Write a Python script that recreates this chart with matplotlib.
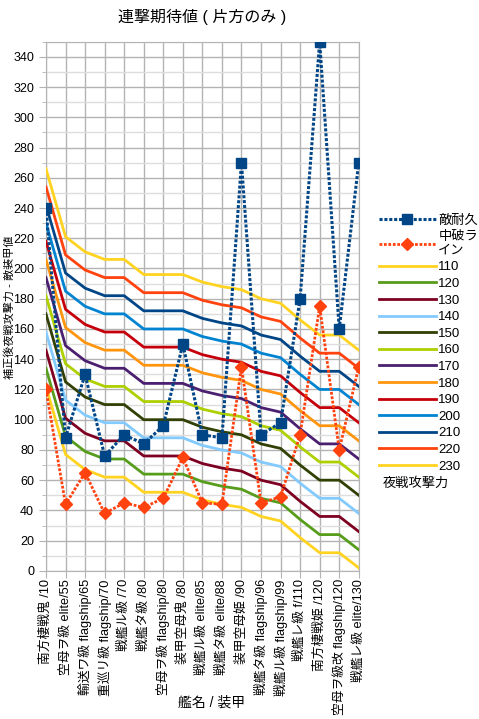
import matplotlib
matplotlib.use("Agg")
import matplotlib.pyplot as plt
from matplotlib.ticker import MultipleLocator

plt.rcParams["font.family"] = ["Liberation Sans", "Noto Sans CJK JP", "DejaVu Sans"]

# ship name / armor
ships = ["南方棲戦鬼 /10", "空母ヲ級 elite/55", "輸送ワ級 flagship/65",
         "重巡リ級 flagship/70", "戦艦ル級 /70", "戦艦タ級 /80",
         "空母ヲ級 flagship/80", "装甲空母鬼 /80", "戦艦ル級 elite/85",
         "戦艦タ級 elite/88", "装甲空母姫 /90", "戦艦タ級 flagship/96",
         "戦艦ル級 flagship/99", "戦艦レ級 f/110", "南方棲戦姫 /120",
         "空母ヲ級改 flagship/120", "戦艦レ級 elite/130"]

enemy_hp = [240, 88, 130, 76, 90, 84, 96, 150, 90, 88, 270, 90, 98, 180, 350, 160, 270]
half_hp = [120, 44, 65, 38, 45, 42, 48, 75, 45, 44, 135, 45, 49, 90, 175, 80, 135]

dmg_110 = [122, 77, 67, 62, 62, 52, 52, 52, 47, 44, 42, 36, 33, 22, 12, 12, 2]
dmg_120 = [134, 89, 79, 74, 74, 64, 64, 64, 59, 56, 54, 48, 45, 34, 24, 24, 14]
dmg_130 = [146, 101, 91, 86, 86, 76, 76, 76, 71, 68, 66, 60, 57, 46, 36, 36, 26]
dmg_140 = [158, 113, 103, 98, 98, 88, 88, 88, 83, 80, 78, 72, 69, 58, 48, 48, 38]
dmg_150 = [170, 125, 115, 110, 110, 100, 100, 100, 95, 92, 90, 84, 81, 70, 60, 60, 50]
dmg_160 = [182, 137, 127, 122, 122, 112, 112, 112, 107, 104, 102, 96, 93, 82, 72, 72, 62]
dmg_170 = [194, 149, 139, 134, 134, 124, 124, 124, 119, 116, 114, 108, 105, 94, 84, 84, 74]
dmg_180 = [206, 161, 151, 146, 146, 136, 136, 136, 131, 128, 126, 120, 117, 106, 96, 96, 86]
dmg_190 = [218, 173, 163, 158, 158, 148, 148, 148, 143, 140, 138, 132, 129, 118, 108, 108, 98]
dmg_200 = [230, 185, 175, 170, 170, 160, 160, 160, 155, 152, 150, 144, 141, 130, 120, 120, 110]
dmg_210 = [242, 197, 187, 182, 182, 172, 172, 172, 167, 164, 162, 156, 153, 142, 132, 132, 122]
dmg_220 = [254, 209, 199, 194, 194, 184, 184, 184, 179, 176, 174, 168, 165, 154, 144, 144, 134]
dmg_230 = [266, 221, 211, 206, 206, 196, 196, 196, 191, 188, 186, 180, 177, 166, 156, 156, 146]

attack_labels = ["110", "120", "130", "140", "150", "160", "170",
                 "180", "190", "200", "210", "220", "230"]
attack_series = [dmg_110, dmg_120, dmg_130, dmg_140, dmg_150, dmg_160, dmg_170,
                 dmg_180, dmg_190, dmg_200, dmg_210, dmg_220, dmg_230]
attack_colors = ["#ffd320", "#579d1c", "#7e0021", "#83caff", "#314004", "#aecf00",
                 "#4b1f6f", "#ff950e", "#c5000b", "#0084d1", "#004586", "#ff420e",
                 "#ffd320"]

fig = plt.figure(figsize=(4.79, 7.19), dpi=100)
ax = fig.add_axes([0.096, 0.206, 0.653, 0.736])

x = list(range(len(ships)))

handles = []
h, = ax.plot(x, enemy_hp, color="#004586", lw=2.2, ls=(0, (1, 0.6)),
             marker="s", ms=7.5, zorder=5, label="敵耐久")
handles.append(h)
h, = ax.plot(x, half_hp, color="#ff420e", lw=2.0, ls=(0, (1, 0.6)),
             marker="D", ms=6, zorder=5, label="中破ラ\nイン")
handles.append(h)
for vals, lab, col in zip(attack_series, attack_labels, attack_colors):
    h, = ax.plot(x, vals, color=col, lw=2.0, label=lab, zorder=3)
    handles.append(h)

ax.set_xlim(0, len(ships) - 1)
ax.set_ylim(0, 350)
ax.yaxis.set_major_locator(MultipleLocator(20))
ax.yaxis.set_minor_locator(MultipleLocator(10))
ax.set_xticks(x)
ax.set_xticklabels(ships, rotation=90, fontsize=9.2)
ax.tick_params(axis="y", labelsize=9, color="#b3b3b3", length=5)
ax.tick_params(axis="y", which="minor", color="#b3b3b3", length=3)
ax.tick_params(axis="x", color="#b3b3b3", length=5, pad=1)

ax.grid(which="major", color="#b3b3b3", lw=1.0, zorder=0)
ax.grid(which="minor", axis="y", color="#dddddd", lw=1.0, zorder=0)
ax.set_axisbelow(True)
for sp in ax.spines.values():
    sp.set_color("#b3b3b3")

fig.text(9 / 479, 1 - 307 / 719, "補正後夜戦攻撃力 - 敵装甲値", fontsize=8,
         rotation=90, ha="center", va="center")
fig.text(212 / 479, 1 - 703 / 719, "艦名 / 装甲", fontsize=10,
         ha="center", va="center")
ax.set_title("連撃期待値 ( 片方のみ )", fontsize=11.5, pad=14)

fig.legend(handles=handles, loc="upper left", bbox_to_anchor=(0.78, 0.709),
           frameon=False, fontsize=9.5, handlelength=4.3, handletextpad=0.2,
           labelspacing=0.33, borderaxespad=0)
fig.text(0.868, 0.328, "夜戦攻撃力", fontsize=9.5, ha="center", va="center")

fig.savefig("out.png", dpi=100)
